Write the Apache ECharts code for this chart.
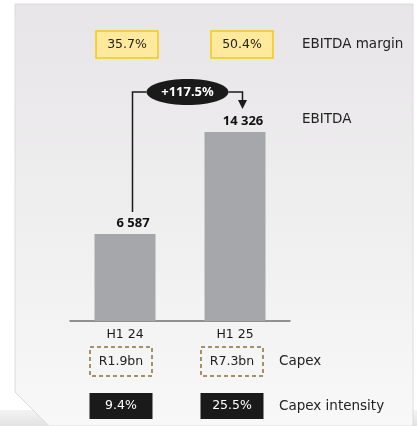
<!DOCTYPE html>
<html>
<head>
<meta charset="utf-8">
<script src="https://cdn.jsdelivr.net/npm/echarts@6/dist/echarts.min.js"></script>
<style>
  html, body { margin: 0; padding: 0; background: #fff; }
  #chart { width: 417px; height: 426px; }
</style>
</head>
<body>
<div id="chart"></div>
<script>
// data
const categories = ['H1 24', 'H1 25'];
const ebitda = [6587, 14326];
const marginLabels = ['35.7%', '50.4%'];
const capexLabels = ['R1.9bn', 'R7.3bn'];
const intensityLabels = ['9.4%', '25.5%'];
const growthLabel = '+117.5%';
const rowNames = ['EBITDA margin', 'EBITDA', 'Capex', 'Capex intensity'];

const FONT = '"DejaVu Sans", sans-serif';
const BOLD = '"Noto Sans", sans-serif';
const fmt = v => String(v).replace(/\B(?=(\d{3})+(?!\d))/g, ' ');

let chart = echarts.init(document.getElementById('chart'));

chart.setOption({
  animation: false,
  textStyle: { fontFamily: FONT },
  grid: { left: 70, right: 127, top: 57, bottom: 105 },
  xAxis: {
    type: 'category',
    data: categories,
    axisLine: { lineStyle: { color: '#707070', width: 1.5 } },
    axisTick: { show: false },
    axisLabel: { color: '#1a1a1a', fontSize: 12.5, margin: 7, fontFamily: FONT }
  },
  yAxis: {
    type: 'value',
    min: 0,
    max: 20000,
    show: false,
    splitLine: { show: false }
  },
  series: [{
    type: 'bar',
    data: ebitda,
    barWidth: 61,
    z: 3,
    itemStyle: { color: '#a6a7aa' },
    label: {
      show: true,
      position: 'top',
      distance: 4,
      offset: [8, 0],
      formatter: p => fmt(p.value),
      color: '#111',
      fontWeight: 'bold',
      fontSize: 13,
      fontFamily: BOLD
    }
  }]
});

function buildGraphics() {
  const cx = categories.map((c, i) => chart.convertToPixel({ xAxisIndex: 0 }, i));
  const ys = ebitda.map(v => chart.convertToPixel({ yAxisIndex: 0 }, v));
  const g = [];

  // panel background with cut corner
  g.push({
    type: 'rect', z: -20, silent: true,
    shape: { x: 0, y: 410, width: 417, height: 16 },
    style: { fill: { type: 'linear', x: 0, y: 0, x2: 0, y2: 1,
      colorStops: [{ offset: 0, color: '#f4f4f4' }, { offset: 1, color: '#e2e2e2' }] } }
  });
  g.push({
    type: 'polygon', z: -10, silent: true,
    shape: { points: [[15, 4], [413, 4], [413, 426], [49, 426], [15, 392]] },
    style: {
      fill: { type: 'linear', x: 0, y: 0, x2: 0, y2: 1,
        colorStops: [{ offset: 0, color: '#e7e5e7' }, { offset: 1, color: '#f8f8f8' }] },
      stroke: '#dcdcdc', lineWidth: 1
    }
  });

  // margin boxes
  const mOff = [2, 7];
  marginLabels.forEach((t, i) => {
    const x = cx[i] + mOff[i];
    g.push({
      type: 'rect', z: 5,
      shape: { x: x - 31, y: 31, width: 62, height: 27 },
      style: { fill: '#fee99c', stroke: '#f6c90e', lineWidth: 1.5 }
    });
    g.push({
      type: 'text', z: 6,
      x: x, y: 44.5,
      style: { text: t, font: '12.5px ' + FONT, fill: '#222', align: 'center', verticalAlign: 'middle' }
    });
  });

  // capex boxes
  const bOff = [-4, -3];
  capexLabels.forEach((t, i) => {
    const x = cx[i] + bOff[i];
    g.push({
      type: 'rect', z: 5,
      shape: { x: x - 31, y: 347, width: 62, height: 29 },
      style: { fill: 'none', stroke: '#8a7234', lineWidth: 1.5, lineDash: [4, 3] }
    });
    g.push({
      type: 'text', z: 6,
      x: x, y: 361.5,
      style: { text: t, font: '12.5px ' + FONT, fill: '#222', align: 'center', verticalAlign: 'middle' }
    });
  });

  // capex intensity boxes
  intensityLabels.forEach((t, i) => {
    const x = cx[i] + bOff[i];
    g.push({
      type: 'rect', z: 5,
      shape: { x: x - 31.5, y: 393, width: 63, height: 26 },
      style: { fill: '#1b1a1a' }
    });
    g.push({
      type: 'text', z: 6,
      x: x, y: 406,
      style: { text: t, font: '12.5px ' + FONT, fill: '#fff', align: 'center', verticalAlign: 'middle' }
    });
  });

  // row names
  const rowPos = [[302, 44.5], [302, 119], [279, 361.5], [279, 406]];
  rowNames.forEach((t, i) => {
    g.push({
      type: 'text', z: 6,
      x: rowPos[i][0], y: rowPos[i][1],
      style: { text: t, font: '13.5px ' + FONT, fill: '#222', align: 'left', verticalAlign: 'middle' }
    });
  });

  // growth connector
  const lx = cx[0] + 7.5, rx = cx[1] + 7.5;
  const topY = ys[1] - 40;
  const ovalW = 82, ovalH = 26, mid = (lx + rx) / 2;
  g.push({
    type: 'polyline', z: 5,
    shape: { points: [[lx, ys[0] - 22], [lx, topY], [mid - ovalW / 2, topY]] },
    style: { stroke: '#1a1a1a', lineWidth: 1.5, fill: 'none' }
  });
  g.push({
    type: 'polyline', z: 5,
    shape: { points: [[mid + ovalW / 2, topY], [rx, topY], [rx, ys[1] - 30]] },
    style: { stroke: '#1a1a1a', lineWidth: 1.5, fill: 'none' }
  });
  g.push({
    type: 'polygon', z: 5,
    shape: { points: [[rx - 4.5, ys[1] - 32], [rx + 4.5, ys[1] - 32], [rx, ys[1] - 23]] },
    style: { fill: '#1a1a1a' }
  });
  g.push({
    type: 'ellipse', z: 5,
    shape: { cx: mid, cy: topY, rx: ovalW / 2, ry: ovalH / 2 },
    style: { fill: '#1a1a1a' }
  });
  g.push({
    type: 'text', z: 6,
    x: mid, y: topY,
    style: { text: growthLabel, font: 'bold 13px ' + BOLD, fill: '#fff', align: 'center', verticalAlign: 'middle' }
  });

  chart.setOption({ graphic: g });
}

buildGraphics();
</script>
</body>
</html>
